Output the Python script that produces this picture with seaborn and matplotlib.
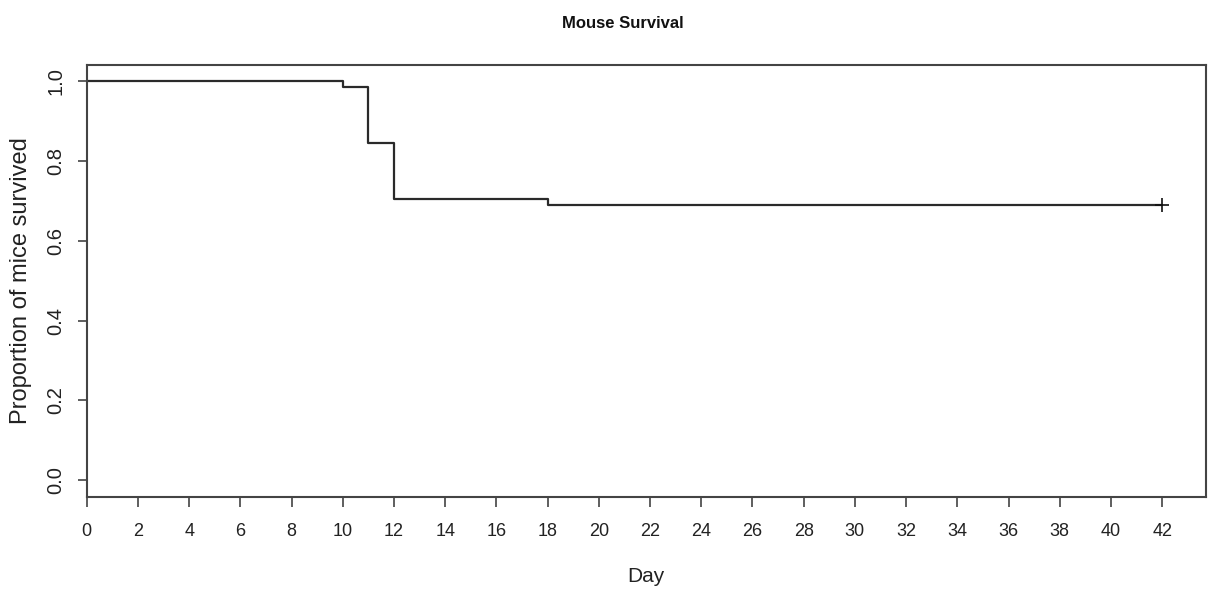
import matplotlib
matplotlib.use("Agg")
import matplotlib.pyplot as plt
from matplotlib import font_manager
import seaborn as sns
import pandas as pd

# ---- data ----
days = [0, 10, 11, 12, 18, 42]
survival = [1.0, 0.985, 0.846, 0.705, 0.690, 0.690]
censor_days = [42]
censor_surv = [0.690]
x_ticks = list(range(0, 43, 2))
y_ticks = [0.0, 0.2, 0.4, 0.6, 0.8, 1.0]
y_tick_labels = ["0.0", "0.2", "0.4", "0.6", "0.8", "1.0"]
title = "Mouse Survival"
x_label = "Day"
y_label = "Proportion of mice survived"

sns.set_style("white")
names = {f.name for f in font_manager.fontManager.ttflist}
base = "Liberation Sans"
narrow = "Liberation Sans Narrow" if "Liberation Sans Narrow" in names else None
plt.rcParams["font.family"] = [base, "DejaVu Sans"]

df = pd.DataFrame({"day": days, "surv": survival})
cdf = pd.DataFrame({"day": censor_days, "surv": censor_surv})

fig = plt.figure(figsize=(12.13, 5.92), dpi=100)
ax = fig.add_axes([86.7 / 1213, 1 - 496.7 / 592, (1205.7 - 86.7) / 1213, (496.7 - 64.7) / 592])

sns.lineplot(data=df, x="day", y="surv", drawstyle="steps-post", color="#2a2a2a",
             linewidth=1.6, ax=ax, estimator=None)
sns.scatterplot(data=cdf, x="day", y="surv", marker="+", s=110, color="#111111",
                linewidth=1.2, ax=ax, zorder=5)

ax.set_xlim(0, 43.7)
ax.set_ylim(-0.041, 1.041)

for s in ax.spines.values():
    s.set_visible(True)
    s.set_color("#444444")
    s.set_linewidth(1.5)

ax.set_xticks(x_ticks)
ax.set_yticks(y_ticks)
ax.set_yticklabels(y_tick_labels, rotation=90, va="center")
ax.tick_params(axis="x", length=7.2, width=1.1, color="#333333", pad=12, bottom=True)
ax.tick_params(axis="y", length=6.5, width=1.1, color="#333333", pad=9, left=True)

xfam = [narrow, base] if narrow else [base]
xsize = 14 if narrow else 13
for lab in ax.get_xticklabels():
    lab.set_fontfamily(xfam)
    lab.set_fontsize(xsize)
    lab.set_color("#222222")
for lab in ax.get_yticklabels():
    lab.set_fontfamily([base])
    lab.set_fontsize(14.5)
    lab.set_color("#222222")

ax.set_xlabel(x_label, fontsize=(16 if narrow else 15), family=xfam, color="#222222")
ax.xaxis.set_label_coords(0.5, -0.163)
ax.set_ylabel(y_label, fontsize=17, family=[base], color="#222222")
ax.yaxis.set_label_coords(-0.049, 0.5)

fig.text(622.5 / 1213, 1 - 23 / 592, title, ha="center", va="center",
         fontsize=(14 if narrow else 12), fontweight="bold", family=xfam, color="#111111")

fig.savefig("out.png", dpi=100)
